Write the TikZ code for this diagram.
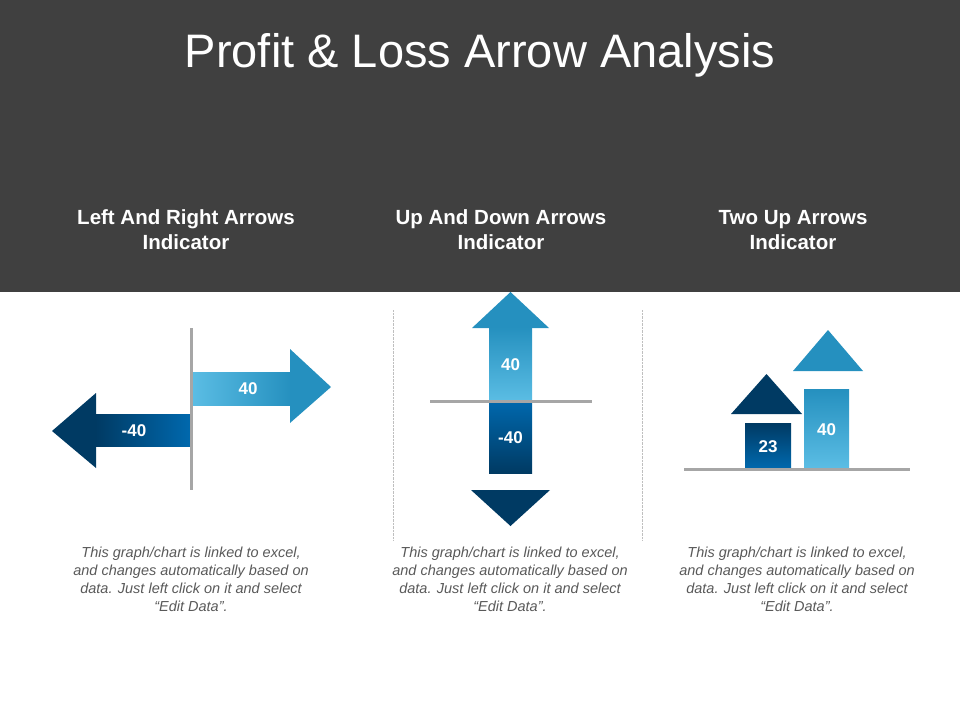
\documentclass[tikz,border=0pt]{standalone}
\usepackage{fontspec}
\setmainfont{Liberation Sans}
\usetikzlibrary{positioning}
\definecolor{headgray}{HTML}{404040}
\definecolor{lightblue}{HTML}{5BBDE4}
\definecolor{midblue}{HTML}{2590BF}
\definecolor{deepblue}{HTML}{0068AD}
\definecolor{darkblue}{HTML}{003A63}
\definecolor{axisgray}{HTML}{A6A6A6}
\definecolor{notegray}{HTML}{595959}
\tikzset{
  axis/.style={axisgray, line width=3pt},
  sep/.style={black!25, line width=0.4pt, densely dotted},
  val/.style={white, font=\fontsize{17}{18}\selectfont\bfseries},
  sub/.style={white, align=center, font=\fontsize{20.5}{25}\selectfont\bfseries},
  note/.style={notegray, align=center, font=\fontsize{14.5}{18}\selectfont\itshape}
}
\begin{document}
\begin{tikzpicture}[x=1pt, y=-1pt]
			\useasboundingbox (0,0) rectangle (960,720);
			\fill[headgray] (0,0) rectangle (960,292);
			\node[white, font=\fontsize{47}{52}\selectfont] (title) at (480,55) {Profit \& Loss Arrow Analysis};
			\node[sub] (subA) at (186,230) {Left And Right Arrows\\Indicator};
			\node[sub] (subB) at (501,230) {Up And Down Arrows\\Indicator};
			\node[sub] (subC) at (793,230) {Two Up Arrows\\Indicator};
			% separators
			\draw[sep] (393,310) -- (393,540);
			\draw[sep] (642,310) -- (642,540);
			% left and right arrows
			\shade[left color=lightblue, right color=midblue] (192,372) rectangle (291,405);
			\fill[midblue] (290,349) -- (331,387) -- (290,423) -- cycle;
			\shade[left color=darkblue, right color=deepblue] (95,414) rectangle (190,446);
			\fill[darkblue] (96,393) -- (52,431) -- (96,468) -- cycle;
			\draw[axis] (191,328) -- (191,490);
			\node[val] (rval) at (248,389) {40};
			\node[val] (lval) at (134,431) {-40};
			% up and down arrows
			\fill[midblue] (472,328) -- (510.5,292) -- (549,328) -- cycle;
			\shade[top color=midblue, bottom color=lightblue] (489,327) rectangle (532,401);
			\shade[top color=deepblue, bottom color=darkblue] (489,401) rectangle (532,473);
			\fill[darkblue] (471,490) -- (550,490) -- (510.5,526) -- cycle;
			\draw[axis] (430,401) -- (592,401);
			\node[val] (uval) at (510.5,365) {40};
			\node[val] (dval) at (510.5,438) {-40};
			% two up arrows
			\shade[top color=darkblue, bottom color=deepblue] (745,423) rectangle (791,468);
			\fill[darkblue] (731,414) -- (766.5,374) -- (802,414) -- cycle;
			\shade[top color=midblue, bottom color=lightblue] (804,389) rectangle (849,468);
			\fill[midblue] (793,371) -- (828,330) -- (863,371) -- cycle;
			\draw[axis] (684,469) -- (910,469);
			\node[val] (aval) at (768,447) {23};
			\node[val] (bval) at (826.5,430) {40};
			% notes
			\node[note] (noteA) at (191,579) {This graph/chart is linked to excel,\\and changes automatically based on\\data. Just left click on it and select\\“Edit Data”.};
			\node[note] (noteB) at (510,579) {This graph/chart is linked to excel,\\and changes automatically based on\\data. Just left click on it and select\\“Edit Data”.};
			\node[note] (noteC) at (797,579) {This graph/chart is linked to excel,\\and changes automatically based on\\data. Just left click on it and select\\“Edit Data”.};
		\end{tikzpicture}
\end{document}
